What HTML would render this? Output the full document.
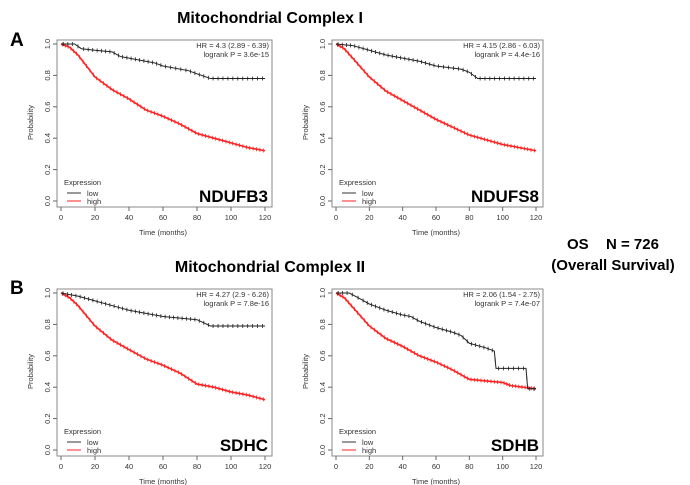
<!DOCTYPE html>
<html><head><meta charset="utf-8"><style>
body{margin:0;background:#fff;width:690px;height:485px;overflow:hidden;font-family:"Liberation Sans",sans-serif}
svg{display:block}
</style></head><body>
<svg id="fig" width="690" height="485" xmlns="http://www.w3.org/2000/svg">
<text x="270" y="23" font-size="16" font-weight="bold" text-anchor="middle">Mitochondrial Complex I</text>
<text x="270" y="272" font-size="16" font-weight="bold" text-anchor="middle">Mitochondrial Complex II</text>
<text x="10" y="46" font-size="19" font-weight="bold">A</text>
<text x="10" y="294" font-size="19" font-weight="bold">B</text>
<text x="567" y="249" font-size="15" font-weight="bold">OS</text>
<text x="606" y="249" font-size="15" font-weight="bold">N = 726</text>
<text x="613" y="270" font-size="15" font-weight="bold" text-anchor="middle">(Overall Survival)</text>
</svg>
<script>
const panelNames = ["NDUFB3","NDUFS8","SDHC","SDHB"];
const hrLabels = ["HR = 4.3 (2.89 - 6.39)","HR = 4.15 (2.86 - 6.03)","HR = 4.27 (2.9 - 6.26)","HR = 2.06 (1.54 - 2.75)"];
const pLabels = ["logrank P = 3.6e-15","logrank P = 4.4e-16","logrank P = 7.8e-16","logrank P = 7.4e-07"];
const xTicks = [0,20,40,60,80,100,120];
const yTicks = [0,0.2,0.4,0.6,0.8,1.0];
const lowTimes = [
 [0,8,12,20,30,35,45,55,60,75,80,88,120],
 [0,10,20,30,40,50,60,75,80,85,120],
 [0,10,20,30,40,50,60,70,80,88,120],
 [0,8,15,20,30,40,45,50,60,70,75,80,90,95,96,114,115,120]];
const lowSurv = [
 [1,1,0.97,0.96,0.95,0.92,0.90,0.88,0.86,0.83,0.81,0.78,0.78],
 [1,0.99,0.96,0.93,0.91,0.89,0.86,0.84,0.82,0.78,0.78],
 [1,0.98,0.95,0.92,0.89,0.87,0.85,0.84,0.83,0.79,0.79],
 [1,1,0.96,0.93,0.89,0.86,0.85,0.82,0.78,0.75,0.73,0.68,0.65,0.63,0.52,0.52,0.39,0.39]];
const highTimes = [
 [0,5,10,20,30,40,50,60,70,80,90,100,110,120],
 [0,5,10,20,30,40,50,60,70,80,90,100,110,120],
 [0,5,10,20,30,40,50,60,70,80,90,100,110,120],
 [0,5,10,20,30,40,50,60,70,80,90,100,105,120]];
const highSurv = [
 [1,0.98,0.93,0.79,0.71,0.65,0.58,0.54,0.49,0.43,0.40,0.37,0.34,0.32],
 [1,0.97,0.91,0.79,0.70,0.64,0.58,0.52,0.47,0.42,0.39,0.36,0.34,0.32],
 [1,0.97,0.92,0.79,0.70,0.64,0.58,0.54,0.49,0.42,0.40,0.37,0.35,0.32],
 [1,0.97,0.91,0.79,0.71,0.66,0.60,0.56,0.51,0.45,0.44,0.43,0.41,0.39]];
const layouts = [{x0:61,x1:265,y1:44,y0:201},{x0:336,x1:536,y1:44,y0:201},{x0:61,x1:265,y1:293,y0:450},{x0:336,x1:536,y1:293,y0:450}];
const NS="http://www.w3.org/2000/svg";
const svg=document.getElementById('fig');
function mk(tag,attrs,parent,txt){const e=document.createElementNS(NS,tag);for(const k in attrs)e.setAttribute(k,attrs[k]);if(txt!=null)e.textContent=txt;(parent||svg).appendChild(e);return e;}
panelNames.forEach((nm,i)=>{
 const L=layouts[i];
 const sx=t=>L.x0+(L.x1-L.x0)*t/120;
 const sy=v=>L.y0-(L.y0-L.y1)*v;
 const g=mk('g',{});
 
 
 const bx=L.x0-4, by=L.y1-4, bw=(L.x1-L.x0)+11, bh=(L.y0-L.y1)+10;
 const box=mk('rect',{x:bx,y:by,width:bw,height:bh,fill:'none',stroke:'#888','stroke-width':1},g);
 
 
 xTicks.forEach(t=>{
  mk('line',{x1:sx(t),x2:sx(t),y1:by+bh,y2:by+bh+4,stroke:'#666'},g);
  const tl=mk('text',{x:sx(t),y:by+bh+13,'font-size':7.5,'text-anchor':'middle',fill:'#333'},g,String(t));
  
  
 });
 yTicks.forEach(v=>{
  mk('line',{x1:bx,x2:bx-4,y1:sy(v),y2:sy(v),stroke:'#666'},g);
  const tl=mk('text',{x:bx-7,y:sy(v),'font-size':7.5,'text-anchor':'middle',fill:'#333',transform:`rotate(-90 ${bx-7} ${sy(v)})`},g,v.toFixed(1));
  
  
 });
 const xt=mk('text',{x:(L.x0+L.x1)/2,y:by+bh+28,'font-size':7.5,'text-anchor':'middle',fill:'#333'},g,'Time (months)');
 
 
 const yx=bx-24, yy=(L.y0+L.y1)/2;
 const yt=mk('text',{x:yx,y:yy,'font-size':7.5,'text-anchor':'middle',fill:'#333',transform:`rotate(-90 ${yx} ${yy})`},g,'Probability');
 
 
 function curve(ts,vs,col,name,w,dens){
  let d=`M${sx(ts[0])},${sy(vs[0])}`;
  for(let k=1;k<ts.length;k++){d+=` L${sx(ts[k])},${sy(vs[k])}`;}
  const p=mk('path',{d:d,fill:'none',stroke:col,'stroke-width':w},g);
  
  
  for(let k=1;k<ts.length;k++){
   const n=Math.max(1,Math.round((ts[k]-ts[k-1])*dens));
   for(let f=0;f<n;f++){
    const a=(f+0.5)/n;
    const t=ts[k-1]+(ts[k]-ts[k-1])*a;
    const v=vs[k-1]+(vs[k]-vs[k-1])*a;
    mk('line',{x1:sx(t),x2:sx(t),y1:sy(v)-2,y2:sy(v)+2,stroke:col,'stroke-width':0.8},g);
   }
  }
 }
 curve(highTimes[i],highSurv[i],'#ff2020','curve-high',1.6,0.5);
 curve(lowTimes[i],lowSurv[i],'#222','curve-low',1,0.35);
 const hr=mk('text',{x:L.x1+4,y:L.y1+4,'font-size':7.5,'text-anchor':'end',fill:'#333'},g,hrLabels[i]);
 
 
 const pv=mk('text',{x:L.x1+4,y:L.y1+13,'font-size':7.5,'text-anchor':'end',fill:'#333'},g,pLabels[i]);
 
 
 const lg=mk('g',{},g);
 
 
 mk('text',{x:L.x0+3,y:L.y0-16,'font-size':7.5,fill:'#333'},lg,'Expression');
 mk('line',{x1:L.x0+6,x2:L.x0+20,y1:L.y0-8,y2:L.y0-8,stroke:'#333'},lg);
 mk('text',{x:L.x0+26,y:L.y0-5,'font-size':7.5,fill:'#333'},lg,'low');
 mk('line',{x1:L.x0+6,x2:L.x0+20,y1:L.y0,y2:L.y0,stroke:'#ff2020'},lg);
 mk('text',{x:L.x0+26,y:L.y0+3,'font-size':7.5,fill:'#333'},lg,'high');
 const gn=mk('text',{x:L.x1+3,y:L.y0+1,'font-size':17,'font-weight':'bold','text-anchor':'end'},g,nm);
 
 
});
</script>
</body></html>
